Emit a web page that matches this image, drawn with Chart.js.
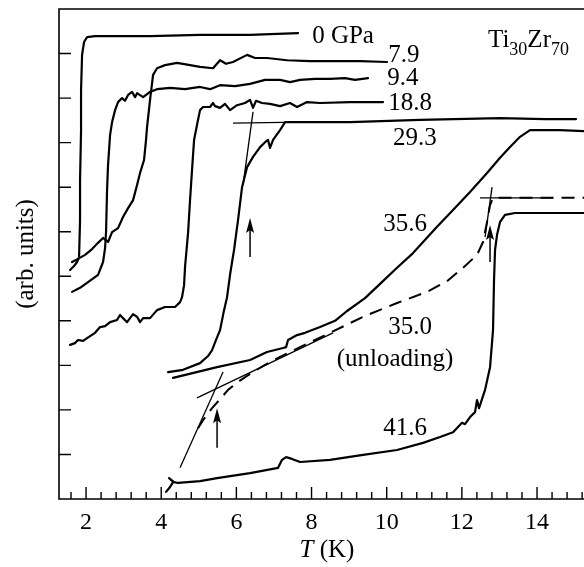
<!DOCTYPE html>
<html>
<head>
<meta charset="utf-8">
<title>Ti30Zr70</title>
<script src="https://cdn.jsdelivr.net/npm/chart.js@4.4.1/dist/chart.umd.min.js"></script>
<style>
  html, body { margin: 0; padding: 0; background: #fff; }
  #wrap { position: relative; width: 584px; height: 567px; }
</style>
</head>
<body>
<div id="wrap"><canvas id="chart"></canvas></div>
<script>
/* Ti30Zr70 – transitions under pressure, T in K, signal in arb. units */

// axis ticks
const X_TICKS = [2, 4, 6, 8, 10, 12, 14];
const X_MINOR = [1.6, 2.4, 2.8, 3.2, 3.6, 4.4, 4.8, 5.2, 5.6, 6.4, 6.8, 7.2, 7.6, 8.4, 8.8, 9.2, 9.6,
                 10.4, 10.8, 11.2, 11.6, 12.4, 12.8, 13.2, 13.6, 14.4, 14.8, 15.2];
const Y_TICKS = [1, 2, 3, 4, 5, 6, 7, 8, 9, 10];

// 0 GPa
const T_00 = [1.574, 1.681, 1.761, 1.814, 1.840, 1.840, 1.867, 1.867, 1.894, 1.947, 2.027, 2.239, 3.703, 5.033, 6.364, 7.641];
const Y_00 = [5.14, 5.23, 5.32, 5.43, 6.26, 7.16, 8.28, 9.18, 9.97, 10.26, 10.37, 10.39, 10.39, 10.42, 10.42, 10.46];

// 7.9 GPa
const T_79 = [1.627, 1.787, 1.973, 2.160, 2.319, 2.452, 2.585, 2.692, 2.851, 2.984, 3.118, 3.251, 3.357, 3.437, 3.543, 3.596,
              3.623, 3.703, 3.783, 3.889, 4.102, 4.421, 4.767, 5.033, 5.379, 5.565, 5.725, 5.911, 6.284, 6.497, 6.816,
              7.348, 7.960, 8.758, 9.290, 10.009];
const Y_79 = [5.32, 5.39, 5.48, 5.61, 5.75, 5.86, 5.77, 5.99, 6.08, 6.33, 6.53, 6.71, 7.05, 7.32, 7.61, 8.06,
              8.35, 8.96, 9.52, 9.67, 9.74, 9.79, 9.74, 9.70, 9.67, 9.85, 9.77, 9.81, 9.97, 9.90, 9.90,
              9.85, 9.83, 9.83, 9.83, 9.81];

// 9.4 GPa
const T_94 = [1.627, 1.840, 2.053, 2.319, 2.452, 2.506, 2.532, 2.559, 2.585, 2.639, 2.692, 2.772, 2.851, 2.958, 3.038,
              3.118, 3.224, 3.304, 3.357, 3.517, 3.703, 3.889, 4.235, 4.634, 5.033, 5.299, 5.565, 5.964, 6.364, 6.763,
              7.162, 7.428, 7.694, 8.093, 8.492, 8.891, 9.157, 9.503];
const Y_94 = [4.65, 4.74, 4.87, 5.03, 5.32, 5.63, 5.99, 6.94, 7.50, 8.17, 8.46, 8.73, 8.91, 9.00, 8.94,
              9.07, 9.14, 9.02, 9.11, 9.02, 9.14, 9.20, 9.23, 9.20, 9.25, 9.20, 9.29, 9.27, 9.32, 9.41,
              9.41, 9.36, 9.41, 9.43, 9.43, 9.45, 9.41, 9.45];

// 18.8 GPa
const T_188 = [1.574, 1.707, 1.787, 1.920, 2.027, 2.239, 2.373, 2.506, 2.639, 2.825, 2.905, 2.984, 3.091, 3.171, 3.251,
               3.357, 3.437, 3.517, 3.703, 3.889, 4.102, 4.368, 4.501, 4.554, 4.608, 4.634, 4.714, 4.767, 4.820, 4.874,
               4.953, 5.033, 5.113, 5.299, 5.379, 5.432, 5.565, 5.698, 5.831, 6.018, 6.231, 6.364, 6.443, 6.523, 6.683,
               6.896, 7.162, 7.428, 7.614, 7.880, 8.226, 9.024, 9.902];
const Y_188 = [3.46, 3.50, 3.57, 3.55, 3.61, 3.73, 3.86, 3.88, 3.97, 4.02, 4.13, 4.06, 3.97, 4.06, 4.15,
               4.09, 3.97, 4.06, 4.06, 4.24, 4.31, 4.31, 4.42, 4.53, 4.80, 5.21, 5.97, 6.71, 7.39, 8.06,
               8.40, 8.73, 8.80, 8.80, 8.89, 8.82, 8.78, 8.87, 8.73, 8.84, 8.89, 8.96, 8.78, 8.94, 8.89,
               8.87, 8.82, 8.89, 8.80, 8.91, 8.89, 8.91, 8.91];

// 29.3 GPa
const T_293 = [4.182, 4.581, 5.033, 5.246, 5.353, 5.459, 5.565, 5.672, 5.752, 5.831, 5.885, 5.938, 5.991, 6.044, 6.151,
               6.284, 6.443, 6.630, 6.763, 6.843, 6.896, 6.976, 7.162, 7.295, 7.428, 9.024, 10.887, 13.016, 14.213, 15.038];
const Y_293 = [2.85, 2.90, 3.05, 3.21, 3.34, 3.57, 3.79, 4.24, 4.53, 5.03, 5.32, 5.59, 5.93, 6.26, 7.00,
               7.45, 7.68, 7.90, 8.01, 8.06, 7.88, 8.06, 8.28, 8.46, 8.46, 8.46, 8.51, 8.55, 8.53, 8.53];

// 35.6 GPa
const T_356 = [4.315, 5.486, 6.364, 6.816, 7.242, 7.322, 7.375, 7.614, 7.827, 8.226, 8.625, 8.944, 9.423, 9.823, 10.275,
               10.701, 11.339, 11.765, 12.217, 12.670, 13.016, 13.282, 13.548, 13.814, 14.612, 15.250];
const Y_356 = [2.72, 2.96, 3.12, 3.30, 3.39, 3.41, 3.57, 3.68, 3.73, 3.86, 4.00, 4.22, 4.51, 4.83, 5.19,
               5.52, 6.11, 6.49, 6.89, 7.32, 7.66, 7.90, 8.13, 8.28, 8.28, 8.26];

// 35.0 GPa (unloading), dashed
const T_350 = [4.980, 5.113, 5.353, 5.565, 5.778, 6.044, 6.364, 6.763, 7.162, 7.694, 8.492, 9.370, 10.275, 11.073, 11.605,
               12.031, 12.403, 12.563, 12.670, 12.750, 12.829, 13.016, 15.250];
const Y_350 = [1.59, 1.77, 2.04, 2.24, 2.45, 2.63, 2.81, 3.01, 3.19, 3.41, 3.73, 4.09, 4.40, 4.65, 4.89,
               5.19, 5.48, 5.77, 6.22, 6.60, 6.76, 6.76, 6.76];

// 41.6 GPa
const T_416 = [4.129, 4.235, 4.315, 4.208, 4.341, 4.448, 5.033, 5.486, 6.364, 7.109, 7.215, 7.322, 7.481, 7.694, 8.492,
               9.370, 10.275, 10.967, 11.419, 11.765, 12.004, 12.084, 12.217, 12.350, 12.403, 12.457, 12.617, 12.750,
               12.829, 12.856, 12.883, 12.936, 13.016, 13.149, 13.415, 15.250];
const Y_416 = [0.16, 0.27, 0.38, 0.47, 0.38, 0.36, 0.40, 0.47, 0.58, 0.70, 0.88, 0.94, 0.90, 0.83, 0.88,
               0.99, 1.10, 1.26, 1.39, 1.50, 1.71, 1.68, 1.84, 1.95, 2.22, 2.04, 2.45, 2.96,
               3.79, 4.92, 5.59, 5.93, 6.22, 6.38, 6.42, 6.42];

// construction (tangent) lines
const TAN_A_T = [5.911, 7.694],   TAN_A_Y = [8.44, 8.46];
const TAN_B_T = [6.443, 6.177],   TAN_B_Y = [8.69, 7.05];
const TAN_C_T = [4.501, 5.645],   TAN_C_Y = [0.70, 2.85];
const TAN_D_T = [4.953, 8.572],   TAN_D_Y = [2.27, 3.73];
const TAN_E_T = [12.617, 12.803], TAN_E_Y = [5.88, 7.00];
const TAN_F_T = [12.483, 14.426], TAN_F_Y = [6.76, 6.76];

// arrows: T, bottom, tip
const ARROWS = [[6.364, 5.43, 6.31], [5.486, 1.15, 2.04], [12.75, 5.32, 6.15]];

// curve labels: text, T (centre), signal (baseline)
const LABELS = [
  ['0 GPa', 8.838, 10.24], ['7.9', 10.46, 9.81], ['9.4', 10.43, 9.29], ['18.8', 10.62, 8.73],
  ['29.3', 10.75, 7.95], ['35.6', 10.49, 6.02], ['35.0', 10.62, 3.70], ['(unloading)', 10.22, 2.99],
  ['41.6', 10.49, 1.44]
];

const SERIF = '"Liberation Serif", "DejaVu Serif", serif';

const pts = (ts, ys) => ts.map((t, i) => ({ x: t, y: ys[i] }));
const curve = (ts, ys, extra) => Object.assign({
  data: pts(ts, ys), showLine: true, pointRadius: 0, borderColor: '#000', borderWidth: 2.2,
  tension: 0, fill: false, borderJoinStyle: 'round', borderCapStyle: 'round'
}, extra || {});
const thin = (ts, ys) => curve(ts, ys, { borderWidth: 1.3, borderCapStyle: 'butt' });

const decor = {
  id: 'decor',
  afterDatasetsDraw(chart) {
    const { ctx, chartArea: a, scales: { x, y } } = chart;
    ctx.save();
    ctx.strokeStyle = '#000';
    ctx.fillStyle = '#000';

    // frame: top, left, bottom (right edge is cut off)
    ctx.lineWidth = 1.6;
    ctx.beginPath();
    ctx.moveTo(a.right, a.top); ctx.lineTo(a.left, a.top);
    ctx.lineTo(a.left, a.bottom); ctx.lineTo(a.right, a.bottom);
    ctx.stroke();

    // inward tick marks
    ctx.lineWidth = 1.4;
    ctx.beginPath();
    Y_TICKS.forEach(v => { const p = y.getPixelForValue(v); ctx.moveTo(a.left, p); ctx.lineTo(a.left + 12, p); });
    X_TICKS.forEach(v => { const p = x.getPixelForValue(v); ctx.moveTo(p, a.bottom); ctx.lineTo(p, a.bottom - 12); });
    X_MINOR.forEach(v => { const p = x.getPixelForValue(v); ctx.moveTo(p, a.bottom); ctx.lineTo(p, a.bottom - 7); });
    ctx.stroke();

    // arrows
    ARROWS.forEach(([t, y0, y1]) => {
      const px = x.getPixelForValue(t), pb = y.getPixelForValue(y0), pt = y.getPixelForValue(y1);
      ctx.lineWidth = 1.5;
      ctx.beginPath(); ctx.moveTo(px, pb); ctx.lineTo(px, pt + 8); ctx.stroke();
      ctx.beginPath();
      ctx.moveTo(px, pt); ctx.lineTo(px - 4, pt + 15); ctx.lineTo(px, pt + 12); ctx.lineTo(px + 4, pt + 15);
      ctx.closePath(); ctx.fill();
    });

    // curve labels
    ctx.font = '25px ' + SERIF;
    ctx.textAlign = 'center';
    ctx.textBaseline = 'alphabetic';
    LABELS.forEach(([s, t, v]) => ctx.fillText(s, x.getPixelForValue(t), y.getPixelForValue(v)));

    // Ti30Zr70
    ctx.textAlign = 'left';
    let cx = x.getPixelForValue(12.696);
    const by = y.getPixelForValue(10.147);
    [['Ti', 25, 0], ['30', 18, 8], ['Zr', 25, 0], ['70', 18, 8]].forEach(([s, sz, dy]) => {
      ctx.font = sz + 'px ' + SERIF;
      ctx.fillText(s, cx, by + dy);
      cx += ctx.measureText(s).width;
    });

    // x title: T (K)
    ctx.font = 'italic 25px ' + SERIF;
    const wT = ctx.measureText('T').width;
    ctx.font = '25px ' + SERIF;
    const wK = ctx.measureText(' (K)').width;
    const tx = x.getPixelForValue(8.41) - (wT + wK) / 2;
    const ty = y.getPixelForValue(-1.30);
    ctx.font = 'italic 25px ' + SERIF;
    ctx.fillText('T', tx, ty);
    ctx.font = '25px ' + SERIF;
    ctx.fillText(' (K)', tx + wT, ty);

    // y title
    ctx.translate(x.getPixelForValue(0.404), y.getPixelForValue(5.5));
    ctx.rotate(-Math.PI / 2);
    ctx.textAlign = 'center';
    ctx.textBaseline = 'middle';
    ctx.fillText('(arb. units)', 0, 0);
    ctx.restore();
  }
};

new Chart(document.getElementById('chart'), {
  type: 'scatter',
  data: {
    datasets: [
      curve(T_00, Y_00), curve(T_79, Y_79), curve(T_94, Y_94), curve(T_188, Y_188),
      curve(T_293, Y_293), curve(T_356, Y_356),
      curve(T_350, Y_350, { borderWidth: 2, borderDash: [13, 8], borderCapStyle: 'butt' }),
      curve(T_416, Y_416),
      thin(TAN_A_T, TAN_A_Y), thin(TAN_B_T, TAN_B_Y), thin(TAN_C_T, TAN_C_Y),
      thin(TAN_D_T, TAN_D_Y), thin(TAN_E_T, TAN_E_Y), thin(TAN_F_T, TAN_F_Y)
    ]
  },
  options: {
    responsive: true,
    maintainAspectRatio: false,
    animation: false,
    devicePixelRatio: 1,
    layout: { padding: { top: 9, right: 0, left: 0, bottom: 0 } },
    plugins: { legend: { display: false }, tooltip: { enabled: false } },
    scales: {
      x: {
        type: 'linear', min: 1.28, max: 15.25,
        afterBuildTicks: s => { s.ticks = X_TICKS.map(v => ({ value: v })); },
        afterFit: s => { s.height = 68; },
        grid: { display: false, drawTicks: false },
        border: { display: false },
        ticks: { color: '#000', font: { family: SERIF, size: 24 }, padding: 9, maxRotation: 0, callback: v => String(v) }
      },
      y: {
        type: 'linear', min: 0, max: 11,
        afterBuildTicks: s => { s.ticks = Y_TICKS.map(v => ({ value: v })); },
        afterFit: s => { s.width = 59; },
        grid: { display: false, drawTicks: false },
        border: { display: false },
        ticks: { display: false }
      }
    }
  },
  plugins: [decor]
});
</script>
</body>
</html>
